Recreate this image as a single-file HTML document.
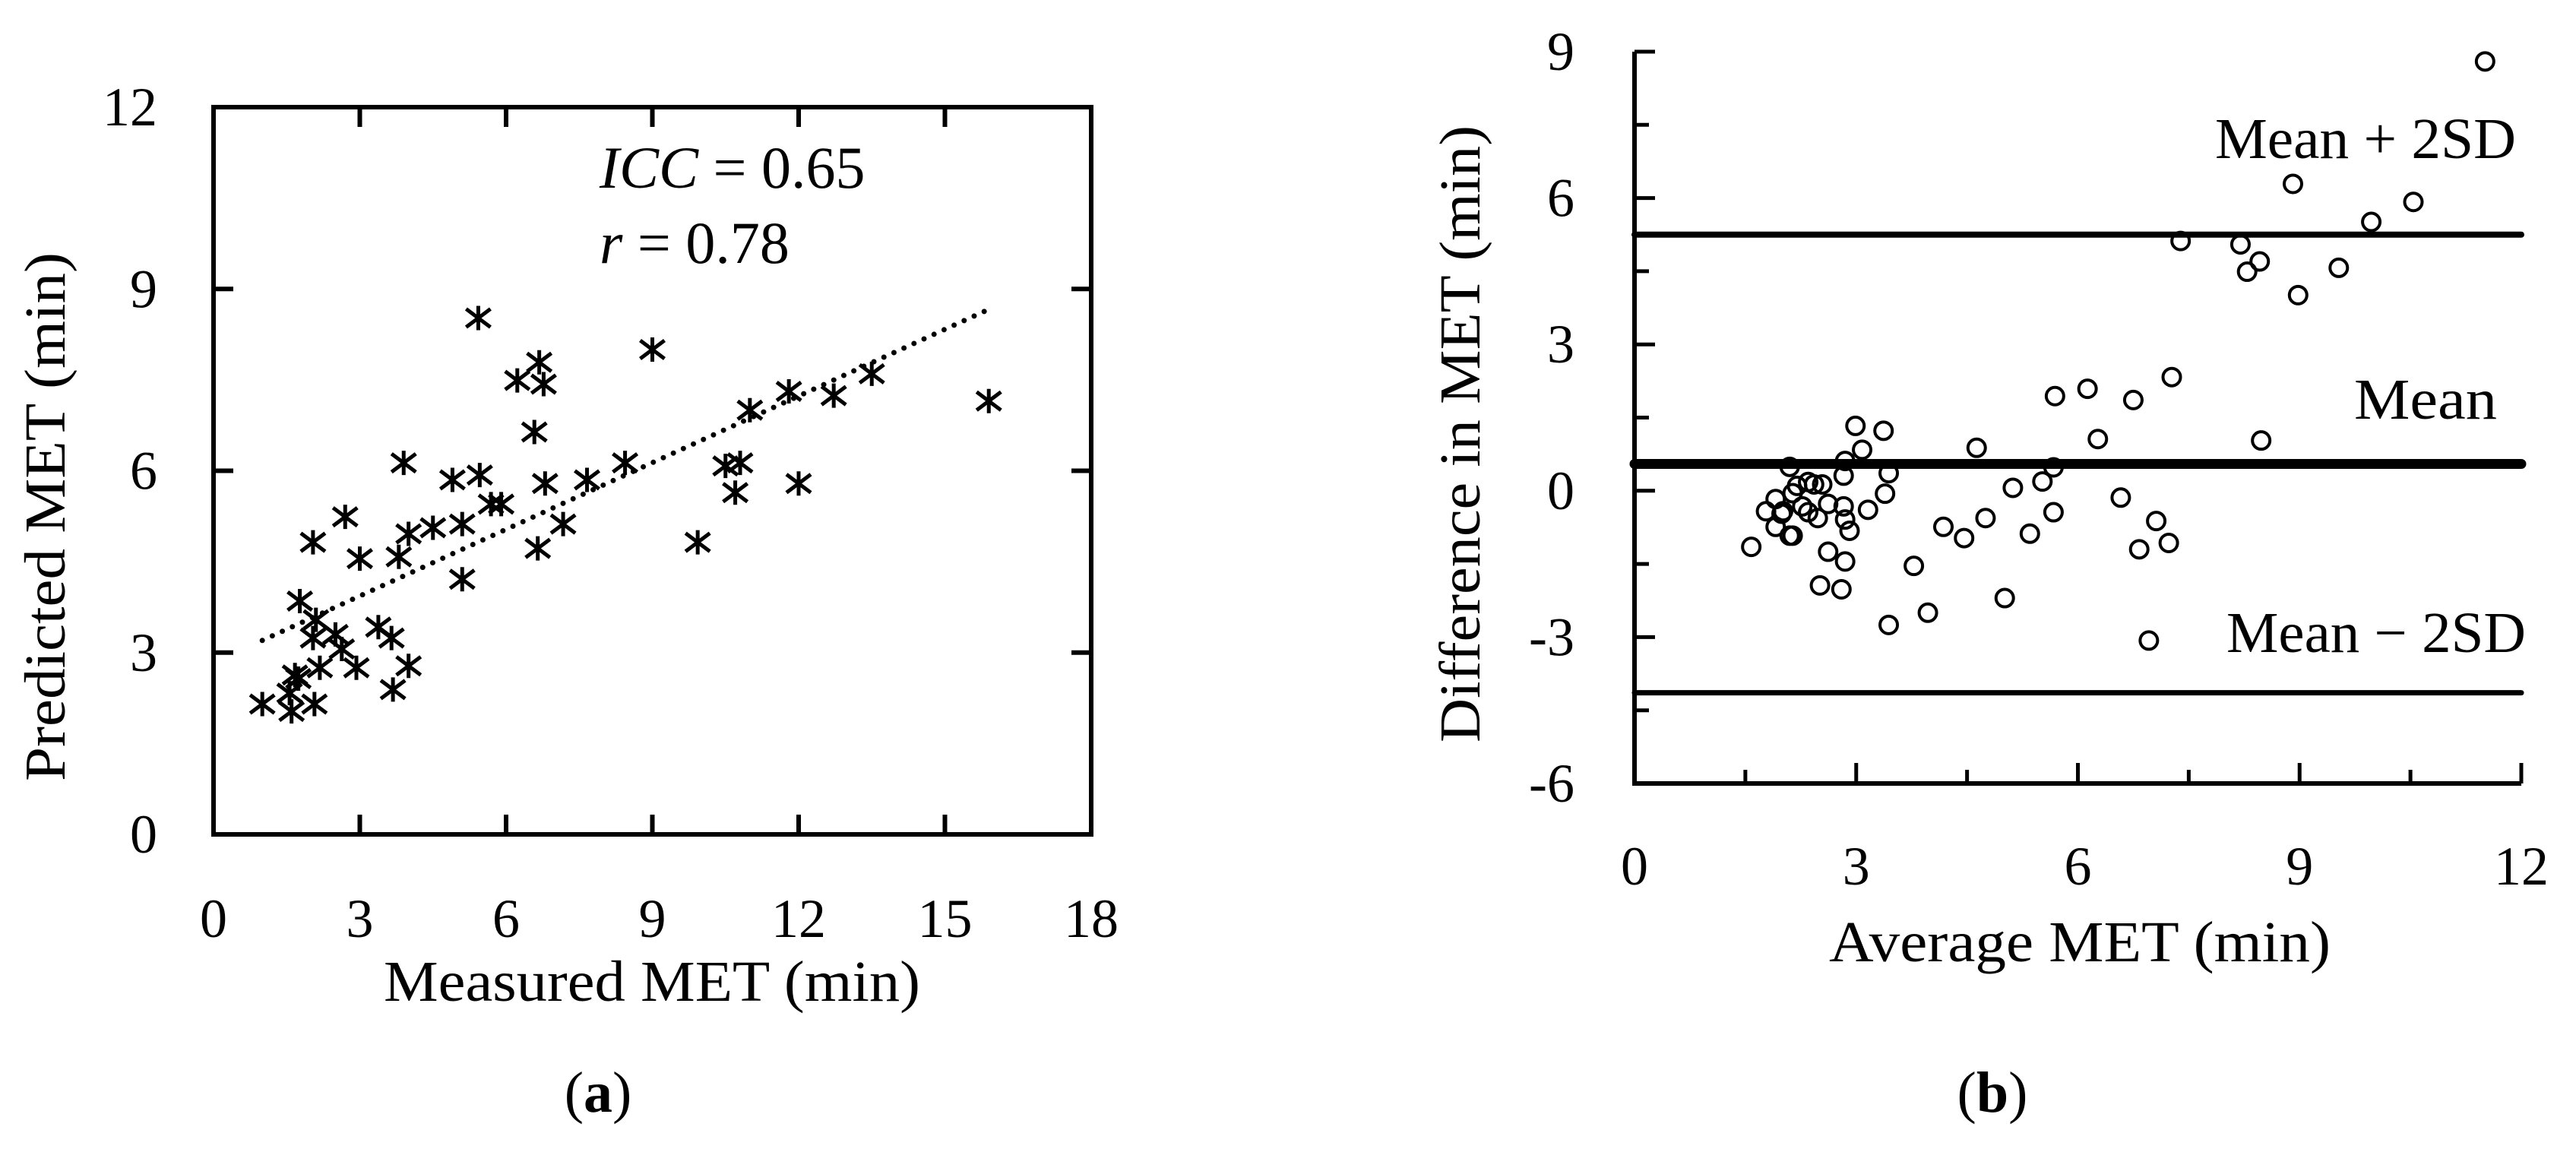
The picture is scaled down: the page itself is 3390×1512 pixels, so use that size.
<!DOCTYPE html>
<html><head><meta charset="utf-8"><style>
html,body{margin:0;padding:0;background:#fff}
svg{display:block}
text{font-family:"Liberation Serif",serif;fill:#000}
</style></head><body>
<svg id="fig" width="3390" height="1512" viewBox="0 0 3390 1512" xmlns="http://www.w3.org/2000/svg">
<g id="ga"></g>
<g id="gb"></g>
</svg>
<script>
// Panel (a) data
const aMeasured = [1.0,1.56,1.6,1.67,1.74,1.77,2.04,2.07,2.04,2.1,2.18,2.5,2.63,2.7,2.93,3.0,3.38,3.65,3.68,3.8,3.9,4.0,4.0,4.5,4.9,5.1,5.1,5.43,5.46,5.69,5.9,6.23,6.58,6.65,6.68,6.77,6.8,7.17,7.66,8.44,9.0,9.93,10.5,10.7,10.8,11.0,11.8,12.0,12.72,13.5,15.9];
const aPredicted = [2.15,2.33,2.03,2.63,2.57,3.85,4.82,2.15,3.24,3.54,2.75,3.3,3.06,5.24,2.75,4.55,3.42,3.24,2.39,4.58,6.13,4.96,2.78,5.06,5.85,4.21,5.12,8.52,5.93,5.45,5.45,7.49,6.64,4.72,7.79,7.43,5.79,5.12,5.85,6.13,8.0,4.82,6.08,5.64,6.13,7.0,7.31,5.79,7.24,7.6,7.15];
const aTrendX = [1, 16];
const aTrendY = [3.2, 8.7];
const aXTicks = [0,3,6,9,12,15,18];
const aYTicks = [0,3,6,9,12];
// Panel (b) data
const bAverage = [1.58,1.78,1.91,1.91,1.99,2.01,2.10,2.10,2.14,2.14,2.2,2.27,2.35,2.35,2.43,2.48,2.51,2.54,2.62,2.62,2.8,2.83,2.83,2.85,2.85,2.85,2.91,2.99,3.08,3.16,3.37,3.39,3.44,3.44,3.78,3.97,4.18,4.46,4.63,4.75,5.01,5.12,5.35,5.52,5.67,5.67,5.69,6.13,6.27,6.58,6.75,6.83,6.96,7.06,7.23,7.27,7.39,8.2,8.29,8.46,8.48,8.91,8.98,9.53,9.97,10.54,11.51];
const bDifference = [-1.15,-0.42,-0.17,-0.74,-0.47,-0.42,0.49,-0.92,-0.92,-0.05,0.1,-0.32,0.18,-0.44,0.13,-0.56,-1.94,0.13,-0.27,-1.25,-2.02,0.31,-0.32,0.61,-0.59,-1.45,-0.82,1.33,0.84,-0.39,1.23,-0.06,0.36,-2.75,-1.54,-2.5,-0.74,-0.97,0.88,-0.56,-2.2,0.06,-0.88,0.19,-0.44,0.48,1.94,2.09,1.06,-0.14,1.86,-1.2,-3.07,-0.62,-1.07,2.33,5.12,5.05,4.49,4.7,1.03,6.29,4.01,4.57,5.51,5.92,8.8];
const bMean = 0.55, bUpper = 5.25, bLower = -4.14;
const bXTicks = [0,3,6,9,12];
const bYTicks = [-6,-3,0,3,6,9];

const NS="http://www.w3.org/2000/svg";
function mk(parent, tag, attrs, txt){const e=document.createElementNS(NS,tag);for(const k in attrs)e.setAttribute(k,attrs[k]);if(txt!==undefined)e.textContent=txt;parent.appendChild(e);return e;}

// ---------- Panel a ----------
const ga=document.getElementById('ga');
const aL=281,aR=1436,aT=141,aB=1098;
const ax=v=>aL+(v-0)/18*(aR-aL);
const ay=v=>aB-(v-0)/12*(aB-aT);
let e;
e=mk(ga,'rect',{x:aL,y:aT,width:aR-aL,height:aB-aT,fill:'none',stroke:'#000','stroke-width':6});


aXTicks.forEach(v=>{
  if(v>0&&v<18){
    e=mk(ga,'line',{x1:ax(v),x2:ax(v),y1:aB,y2:aB-26,stroke:'#000','stroke-width':6});
    
    
    e=mk(ga,'line',{x1:ax(v),x2:ax(v),y1:aT,y2:aT+26,stroke:'#000','stroke-width':6});
    
    
  }
  e=mk(ga,'text',{x:ax(v),y:1233,'font-size':72,'text-anchor':'middle'},String(v));
  
  
});
aYTicks.forEach(v=>{
  if(v>0&&v<12){
    e=mk(ga,'line',{x1:aL,x2:aL+26,y1:ay(v),y2:ay(v),stroke:'#000','stroke-width':6});
    
    
    e=mk(ga,'line',{x1:aR,x2:aR-26,y1:ay(v),y2:ay(v),stroke:'#000','stroke-width':6});
    
    
  }
  e=mk(ga,'text',{x:207,y:ay(v)+24,'font-size':72,'text-anchor':'end'},String(v));
  
  
});
e=mk(ga,'line',{x1:ax(aTrendX[0]),y1:ay(aTrendY[0]),x2:ax(aTrendX[1]),y2:ay(aTrendY[1]),stroke:'#000','stroke-width':7,'stroke-linecap':'round','stroke-dasharray':'0 14.5'});


aMeasured.forEach((m,i)=>{
  const cx=ax(m),cy=ay(aPredicted[i]),s=16;
  const g=mk(ga,'path',{d:`M${cx-s},${cy-s*0.75}L${cx+s},${cy+s*0.75}M${cx-s},${cy+s*0.75}L${cx+s},${cy-s*0.75}M${cx},${cy-s}L${cx},${cy+s}`,stroke:'#000','stroke-width':5,fill:'none'});
  
  
});
e=mk(ga,'text',{x:789,y:247,'font-size':78});


mk(e,'tspan',{'font-style':'italic'},'ICC');mk(e,'tspan',{},' = 0.65');
e=mk(ga,'text',{x:789,y:346,'font-size':78});


mk(e,'tspan',{'font-style':'italic'},'r');mk(e,'tspan',{},' = 0.78');
e=mk(ga,'text',{x:858,y:1317,'font-size':76,'text-anchor':'middle',textLength:706,lengthAdjust:'spacingAndGlyphs'},'Measured MET (min)');


e=mk(ga,'text',{x:0,y:0,'font-size':76,'text-anchor':'middle',textLength:696,lengthAdjust:'spacingAndGlyphs',transform:'translate(85,680) rotate(-90)'},'Predicted MET (min)');


e=mk(ga,'text',{x:787,y:1463,'font-size':76,'text-anchor':'middle'});


mk(e,'tspan',{},'(');mk(e,'tspan',{'font-weight':'bold'},'a');mk(e,'tspan',{},')');

// ---------- Panel b ----------
const gb=document.getElementById('gb');
const bL=2151,bR=3318,bT=68,bB=1031;
const bx=v=>bL+v/12*(bR-bL);
const by=v=>bB-(v+6)/15*(bB-bT);
e=mk(gb,'path',{d:`M${bL},${bT}L${bL},${bB}L${bR},${bB}`,fill:'none',stroke:'#000','stroke-width':6});


for(let k=1;k<=8;k++){
  const v=k*1.5,maj=(k%2===0);
  e=mk(gb,'line',{x1:bx(v),x2:bx(v),y1:bB,y2:bB-(maj?27:18),stroke:'#000','stroke-width':5});
  
  
}
for(let k=1;k<=10;k++){
  const v=-6+k*1.5,maj=(k%2===0);
  e=mk(gb,'line',{x1:bL,x2:bL+(maj?27:19),y1:by(v),y2:by(v),stroke:'#000','stroke-width':5});
  
  
}
bXTicks.forEach(v=>{
  e=mk(gb,'text',{x:bx(v),y:1164,'font-size':72,'text-anchor':'middle'},String(v));
  
  
});
bYTicks.forEach(v=>{
  e=mk(gb,'text',{x:2072,y:by(v)+24,'font-size':72,'text-anchor':'end'},String(v));
  
  
});
[[bUpper,8,'upper-limit-line'],[bMean,13,'mean-line'],[bLower,7,'lower-limit-line']].forEach(([v,w,n])=>{
  e=mk(gb,'line',{x1:bL,x2:bR,y1:by(v),y2:by(v),stroke:'#000','stroke-width':w,'stroke-linecap':'round'});
  
  
});
bAverage.forEach((a,i)=>{
  e=mk(gb,'circle',{cx:bx(a),cy:by(bDifference[i]),r:11.5,fill:'none',stroke:'#000','stroke-width':4});
  
  
});
e=mk(gb,'text',{x:2915,y:208,'font-size':76,textLength:396,lengthAdjust:'spacingAndGlyphs'},'Mean + 2SD');


e=mk(gb,'text',{x:3098,y:551,'font-size':76,textLength:188,lengthAdjust:'spacingAndGlyphs'},'Mean');


e=mk(gb,'text',{x:2930,y:858,'font-size':76,textLength:394,lengthAdjust:'spacingAndGlyphs'},'Mean − 2SD');


e=mk(gb,'text',{x:2737,y:1265,'font-size':76,'text-anchor':'middle',textLength:660,lengthAdjust:'spacingAndGlyphs'},'Average MET (min)');


e=mk(gb,'text',{x:0,y:0,'font-size':76,'text-anchor':'middle',textLength:812,lengthAdjust:'spacingAndGlyphs',transform:'translate(1947,571) rotate(-90)'},'Difference in MET (min)');


e=mk(gb,'text',{x:2622,y:1463,'font-size':76,'text-anchor':'middle'});


mk(e,'tspan',{},'(');mk(e,'tspan',{'font-weight':'bold'},'b');mk(e,'tspan',{},')');
</script>
</body></html>
